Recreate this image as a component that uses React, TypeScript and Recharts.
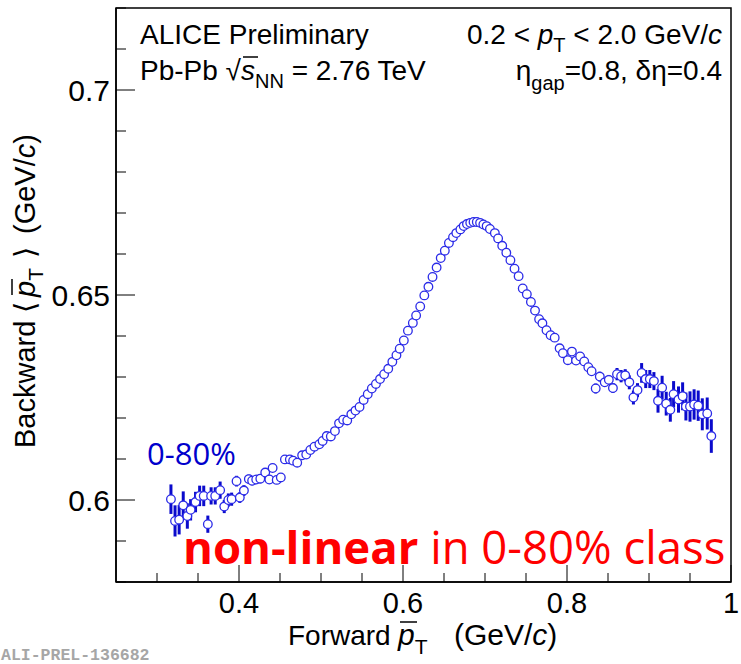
import React from "react";
import { ScatterChart, Scatter, XAxis, YAxis, ErrorBar, ReferenceArea } from "recharts";

// forward <pT> (GeV/c), bin centres
const fwdPt = [
  0.317, 0.322, 0.327, 0.332, 0.337, 0.341, 0.347, 0.352, 0.357, 0.362,
  0.366, 0.371, 0.377, 0.382, 0.387, 0.391, 0.397, 0.401, 0.406, 0.412,
  0.416, 0.421, 0.426, 0.432, 0.437, 0.441, 0.446, 0.451, 0.456, 0.462,
  0.466, 0.471, 0.477, 0.482, 0.487, 0.492, 0.498, 0.502, 0.507, 0.512,
  0.517, 0.522, 0.527, 0.532, 0.537, 0.542, 0.547, 0.552, 0.557, 0.562,
  0.567, 0.572, 0.577, 0.582, 0.587, 0.592, 0.596, 0.601, 0.606, 0.612,
  0.616, 0.621, 0.626, 0.631, 0.636, 0.641, 0.646, 0.651, 0.656, 0.661,
  0.665, 0.67, 0.674, 0.678, 0.682, 0.686, 0.69, 0.694, 0.698, 0.702,
  0.706, 0.712, 0.716, 0.721, 0.726, 0.731, 0.736, 0.741, 0.746, 0.751,
  0.756, 0.761, 0.766, 0.77, 0.775, 0.78, 0.785, 0.791, 0.795, 0.801,
  0.806, 0.811, 0.816, 0.821, 0.826, 0.83, 0.835, 0.84, 0.846, 0.851,
  0.856, 0.861, 0.866, 0.871, 0.876, 0.881, 0.886, 0.891, 0.896, 0.901,
  0.906, 0.911, 0.916, 0.921, 0.926, 0.93, 0.936, 0.941, 0.945, 0.95,
  0.955, 0.96, 0.965, 0.971, 0.976,
];

// backward <pT> (GeV/c)
const bwdPt = [
  0.6002, 0.5949, 0.5952, 0.5987, 0.5961, 0.5976, 0.5995, 0.601, 0.601, 0.5941,
  0.601, 0.601, 0.6024, 0.5984, 0.6, 0.6002, 0.6046, 0.6006, 0.6023, 0.6051,
  0.6047, 0.605, 0.6052, 0.6067, 0.605, 0.6078, 0.6049, 0.6055, 0.6099, 0.6099,
  0.6096, 0.6091, 0.6109, 0.6111, 0.6122, 0.613, 0.6136, 0.6144, 0.6156, 0.6155,
  0.6168, 0.6187, 0.6196, 0.6194, 0.6209, 0.6218, 0.6227, 0.6244, 0.6258, 0.6272,
  0.6283, 0.6295, 0.6307, 0.632, 0.6337, 0.6353, 0.6369, 0.6389, 0.6413, 0.6432,
  0.645, 0.6472, 0.6499, 0.652, 0.6544, 0.6567, 0.659, 0.6608, 0.6627, 0.6641,
  0.6651, 0.666, 0.6668, 0.6673, 0.6676, 0.6678, 0.6678, 0.6676, 0.6672, 0.6668,
  0.6661, 0.6651, 0.6638, 0.662, 0.6603, 0.6585, 0.6564, 0.6546, 0.6516, 0.6502,
  0.6483, 0.6462, 0.6441, 0.6431, 0.6414, 0.6402, 0.6396, 0.637, 0.6358, 0.6341,
  0.6362, 0.634, 0.635, 0.6338, 0.6324, 0.6314, 0.6272, 0.6301, 0.6287, 0.6293,
  0.6273, 0.6307, 0.6302, 0.6304, 0.6287, 0.625, 0.6268, 0.631, 0.6295, 0.6295,
  0.629, 0.6242, 0.6274, 0.6235, 0.622, 0.6258, 0.6245, 0.6253, 0.6228, 0.6228,
  0.6233, 0.623, 0.6209, 0.6211, 0.6156,
];

// statistical errors
const bwdErr = [
  0.0036, 0.0038, 0.0036, 0.0034, 0.0031, 0.0026, 0.0025, 0.0025, 0.0025, 0.0021,
  0.0021, 0.0021, 0.0021, 0.0016, 0.0016, 0.0016, 0.0013, 0.0013, 0.0013, 0.0011,
  0.0011, 0.0011, 0.0011, 0.001, 0.001, 0.0008, 0.0008, 0.0008, 0.0007, 0.0007,
  0.0006, 0.0006, 0.0006, 0.0005, 0.0005, 0.0005, 0.0005, 0.0005, 0.0005, 0.0005,
  0.0004, 0.0004, 0.0004, 0.0004, 0.0004, 0.0004, 0.0004, 0.0004, 0.0004, 0.0004,
  0.0004, 0.0004, 0.0004, 0.0004, 0.0004, 0.0004, 0.0004, 0.0004, 0.0004, 0.0004,
  0.0004, 0.0004, 0.0004, 0.0004, 0.0004, 0.0004, 0.0004, 0.0004, 0.0004, 0.0004,
  0.0004, 0.0004, 0.0004, 0.0004, 0.0004, 0.0004, 0.0004, 0.0004, 0.0004, 0.0004,
  0.0004, 0.0004, 0.0004, 0.0004, 0.0004, 0.0004, 0.0004, 0.0004, 0.0004, 0.0004,
  0.0004, 0.0004, 0.0004, 0.0004, 0.0004, 0.0004, 0.0004, 0.0004, 0.0004, 0.0004,
  0.0006, 0.0006, 0.0007, 0.0007, 0.0008, 0.0009, 0.0012, 0.0012, 0.001, 0.0012,
  0.0012, 0.0015, 0.0015, 0.0015, 0.0017, 0.0017, 0.0017, 0.0024, 0.0022, 0.0022,
  0.0022, 0.0029, 0.0029, 0.0029, 0.0029, 0.0032, 0.0032, 0.0034, 0.0034, 0.0037,
  0.0037, 0.0037, 0.0039, 0.0039, 0.0041,
];

const xTicks = [0.3, 0.35, 0.4, 0.45, 0.5, 0.55, 0.6, 0.65, 0.7, 0.75, 0.8, 0.85, 0.9, 0.95, 1];
const xMajor = [0.4, 0.6, 0.8, 1];
const yTicks = [0.58, 0.59, 0.6, 0.61, 0.62, 0.63, 0.64, 0.65, 0.66, 0.67, 0.68, 0.69, 0.7, 0.71, 0.72];
const yMajor = [0.6, 0.65, 0.7];

const data = fwdPt.map((x, i) => ({ x, y: bwdPt[i], err: bwdErr[i] }));

const ROOT_FONT = "'Liberation Sans', Arial, Helvetica, sans-serif";
const isMajor = (v: number, list: number[]) => list.some((m) => Math.abs(m - v) < 1e-6);

const XTick = ({ x, y, payload }: any) => {
  const major = isMajor(payload.value, xMajor);
  return (
    <g>
      <line x1={x} y1={y} x2={x} y2={y - (major ? 17 : 9)} stroke="#000" strokeWidth={1} />
      {major && (
        <text x={x} y={y + 31} textAnchor="middle" fontSize={29} fontFamily={ROOT_FONT} fill="#000">
          {payload.value === 1 ? "1" : payload.value.toFixed(1)}
        </text>
      )}
    </g>
  );
};

const YTick = ({ x, y, payload }: any) => {
  const major = isMajor(payload.value, yMajor);
  const label = Math.abs(payload.value - 0.65) < 1e-6 ? "0.65" : payload.value.toFixed(1);
  return (
    <g>
      <line x1={x} y1={y} x2={x + (major ? 19 : 10)} y2={y} stroke="#000" strokeWidth={1} />
      {major && (
        <text x={x - 6} y={y + 11} textAnchor="end" fontSize={30} fontFamily={ROOT_FONT} fill="#000">
          {label}
        </text>
      )}
    </g>
  );
};

const OpenCircle = (props: any) => (
  <circle cx={props.cx} cy={props.cy} r={4.3} fill="#fff" stroke="#2b2be8" strokeWidth={1.3} />
);

export default function App() {
  return (
    <div style={{ position: "fixed", left: 0, top: 0, width: 741, height: 664, background: "#fff" }}>
      <ScatterChart width={741} height={664} margin={{ top: 8, right: 10, bottom: 0, left: 0 }}>
        <XAxis
          type="number"
          dataKey="x"
          domain={[0.25, 1]}
          ticks={xTicks}
          interval={0}
          allowDataOverflow
          height={82}
          tickSize={0}
          tickMargin={0}
          tickLine={false}
          tick={<XTick />}
          axisLine={{ stroke: "#000", strokeWidth: 1.5 }}
        />
        <YAxis
          type="number"
          dataKey="y"
          domain={[0.58, 0.72]}
          ticks={yTicks}
          interval={0}
          allowDataOverflow
          width={116}
          tickSize={0}
          tickMargin={0}
          tickLine={false}
          tick={<YTick />}
          axisLine={{ stroke: "#000", strokeWidth: 1.5 }}
        />
        <ReferenceArea x1={0.25} x2={1} y1={0.58} y2={0.72} fill="none" stroke="#000" strokeWidth={1.5} />
        <Scatter data={data} shape={<OpenCircle />} isAnimationActive={false}>
          <ErrorBar dataKey="err" direction="y" width={0} stroke="#0a0acc" strokeWidth={3} />
        </Scatter>
      </ScatterChart>

      <svg width={741} height={664} style={{ position: "absolute", left: 0, top: 0, pointerEvents: "none" }}>
        <g fontFamily={ROOT_FONT} fontSize={28} fill="#000">
          <text x={140} y={44}>ALICE Preliminary</text>
          <text x={140} y={80}>
            Pb-Pb √<tspan fontStyle="italic">s</tspan>
            <tspan dy={8} fontSize={20}>NN</tspan>
            <tspan dy={-8}> = 2.76 TeV</tspan>
          </text>
          <line x1={243} y1={57} x2={258} y2={57} stroke="#000" strokeWidth={1.5} />
          <text x={722} y={44} textAnchor="end">
            0.2 &lt; <tspan fontStyle="italic">p</tspan>
            <tspan dy={8} fontSize={20}>T</tspan>
            <tspan dy={-8}> &lt; 2.0 GeV/</tspan>
            <tspan fontStyle="italic">c</tspan>
          </text>
          <text x={722} y={80} textAnchor="end">
            η<tspan dy={10} fontSize={20}>gap</tspan>
            <tspan dy={-10}>=0.8, δη=0.4</tspan>
          </text>
        </g>
        <g fontFamily={ROOT_FONT} fill="#000">
          <text x={288} y={645} fontSize={28}>
            Forward
            <tspan x={398} fontSize={30} fontStyle="italic">p</tspan>
            <tspan dy={9} fontSize={21}>T</tspan>
            <tspan dy={-9} x={454} fontSize={30}>(GeV/</tspan>
            <tspan fontSize={30} fontStyle="italic">c</tspan>
            <tspan fontSize={30}>)</tspan>
          </text>
          <line x1={400} y1={622} x2={417} y2={622} stroke="#000" strokeWidth={1.5} />
          <g transform="translate(35,448) rotate(-90)">
            <text x={0} y={0} fontSize={29}>
              Backward ⟨
              <tspan x={151} fontStyle="italic">p</tspan>
              <tspan dy={8} fontSize={21}>T</tspan>
              <tspan dy={-8} x={190}>⟩</tspan>
              <tspan x={214}>(GeV/</tspan>
              <tspan fontStyle="italic">c</tspan>)
            </text>
            <line x1={153} y1={-23} x2={169} y2={-23} stroke="#000" strokeWidth={1.5} />
          </g>
        </g>
        <text x={147} y={465} fontFamily="'Open Sans', sans-serif" fontSize={31} fill="#0000cc">
          0-80%
        </text>
        <text x={183} y={564} fontFamily="'Open Sans', sans-serif" fontSize={45.5} fill="#ff0000">
          <tspan fontWeight={700}>non-linear</tspan> in 0-80% class
        </text>
        <text x={1} y={660} fontFamily="'Liberation Mono', 'DejaVu Sans Mono', monospace" fontWeight={700} fontSize={16.5} fill="#a6a6a6">
          ALI-PREL-136682
        </text>
      </svg>
    </div>
  );
}
